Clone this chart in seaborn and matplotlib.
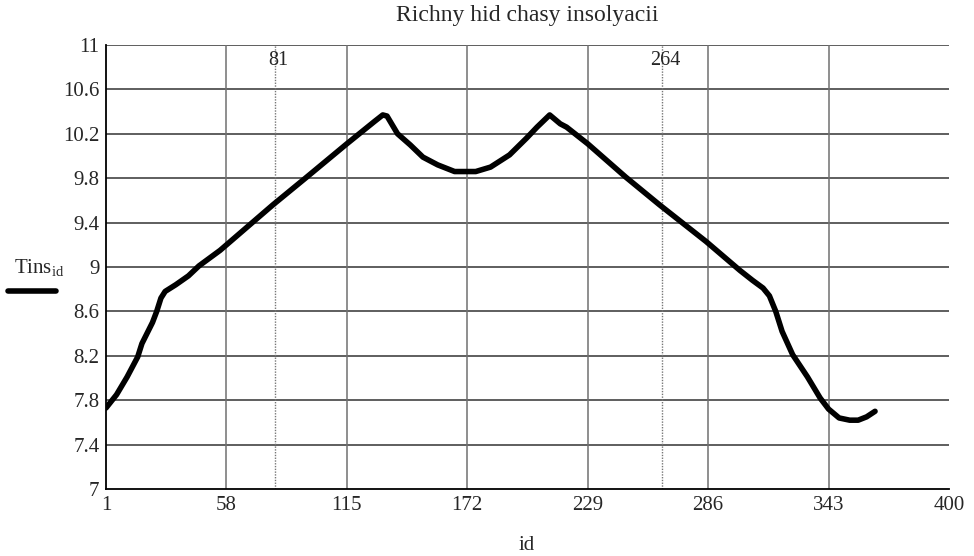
import matplotlib
matplotlib.use("Agg")
import matplotlib.pyplot as plt
import seaborn as sns
import pandas as pd
from matplotlib.lines import Line2D

# ---- data ----
day = [1, 6, 11, 16, 18, 23, 25, 27, 29, 34, 40, 45, 55, 80, 96, 115, 128, 132, 134,
       139, 145, 151, 158, 166, 176, 183, 192, 200, 205, 211, 216, 219, 229, 247, 263,
       285, 301, 307, 312, 315, 318, 321, 326, 333, 339, 343, 348, 353, 357, 361, 365]
tins = [7.73, 7.85, 8.01, 8.19, 8.31, 8.50, 8.60, 8.72, 8.78, 8.84, 8.92, 9.01, 9.15,
        9.56, 9.81, 10.11, 10.31, 10.37, 10.36, 10.20, 10.10, 9.99, 9.92, 9.86, 9.86,
        9.90, 10.01, 10.16, 10.26, 10.37, 10.29, 10.26, 10.11, 9.81, 9.56, 9.23, 8.97,
        8.88, 8.81, 8.74, 8.60, 8.42, 8.21, 8.01, 7.82, 7.72, 7.64, 7.62, 7.62, 7.65, 7.70]
x_ticks = [1, 58, 115, 172, 229, 286, 343, 400]
y_ticks = [7, 7.4, 7.8, 8.2, 8.6, 9, 9.4, 9.8, 10.2, 10.6, 11]
markers = [81, 264]
title = "Richny hid chasy insolyacii"
x_label = "id"

sns.set_style("white")
plt.rcParams["font.family"] = ["Liberation Serif", "DejaVu Serif"]
plt.rcParams["mathtext.fontset"] = "custom"
plt.rcParams["mathtext.rm"] = "Liberation Serif"
plt.rcParams["mathtext.it"] = "Liberation Serif"

df = pd.DataFrame({"id": day, "Tins": tins})

fig = plt.figure(figsize=(9.74, 5.56), dpi=100)
ax = fig.add_axes([106 / 974, 1 - 489 / 556, (949 - 106) / 974, (489 - 45) / 556])

# grid
for v in y_ticks[1:]:
    ax.axhline(v, color="#333333", lw=1.1, zorder=1)
for v in x_ticks[1:-1]:
    ax.axvline(v, color="#707070", lw=1.1, zorder=1)
for m in markers:
    ax.axvline(m, color="#777777", lw=1.0, ls=(0, (1, 1)), zorder=1)
    ax.annotate(str(m), xy=(m, 1), xycoords=("data", "axes fraction"),
                xytext=(2.5, -11), textcoords="offset points",
                ha="center", va="center", fontsize=14.5)

sns.lineplot(data=df, x="id", y="Tins", ax=ax, color="black", lw=4, zorder=3)

ax.set_xlim(1, 400)
ax.set_ylim(7, 11)
ax.set_xticks(x_ticks)
ax.set_xticklabels([str(v) for v in x_ticks])
ax.set_yticks(y_ticks)
ax.set_yticklabels([f"{v:g}" for v in y_ticks])
ax.tick_params(axis="y", direction="inout", length=11.5, width=1.2, color="black",
               labelsize=15, pad=-1)
ax.tick_params(axis="x", direction="in", length=6, width=1.2, color="black",
               labelsize=15, pad=5)
for s in ["top", "right"]:
    ax.spines[s].set_visible(False)
for s in ["left", "bottom"]:
    ax.spines[s].set_color("black")
    ax.spines[s].set_linewidth(1.3)
ax.set_xlabel("")
ax.set_ylabel("")

fig.text(527 / 974, 1 - 15 / 556, title, ha="center", va="center", fontsize=17)
fig.text(527 / 974, 1 - 545 / 556, x_label, ha="center", va="center", fontsize=15)
fig.text(14 / 974, 1 - 268 / 556, r"$\mathrm{Tins}_{\mathrm{id}}$", ha="left",
         va="center", fontsize=15)
fig.add_artist(Line2D([8 / 974, 56 / 974], [1 - 291 / 556, 1 - 291 / 556],
                      transform=fig.transFigure, color="black", lw=4,
                      solid_capstyle="round"))

fig.savefig("out.png", dpi=100)
